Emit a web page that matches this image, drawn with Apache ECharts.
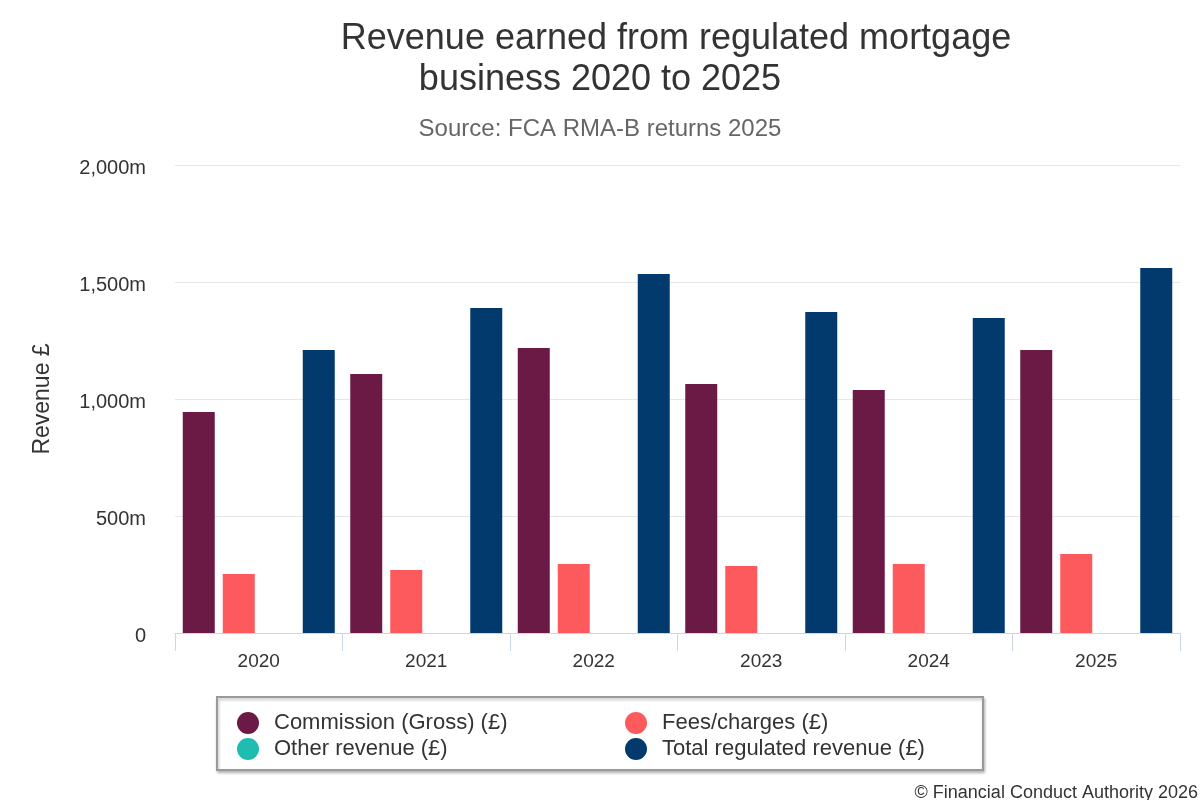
<!DOCTYPE html>
<html>
<head>
<meta charset="utf-8">
<script src="https://cdn.jsdelivr.net/npm/echarts@6/dist/echarts.min.js"></script>
<style>
  html, body { margin: 0; padding: 0; background: #fff; }
  #chart { width: 1200px; height: 800px; }
</style>
</head>
<body>
<div id="chart"></div>
<script>
// data (values in £m)
var years = ['2020', '2021', '2022', '2023', '2024', '2025'];
var commission = [944, 1107, 1218, 1064, 1038, 1209];
var fees = [252, 269, 295, 286, 295, 338];
var otherRevenue = [0, 0, 0, 0, 0, 0];
var totalRevenue = [1209, 1389, 1534, 1372, 1346, 1560];
var yTicks = [0, 500, 1000, 1500, 2000];

var font = 'Liberation Sans, Arial, sans-serif';

function barSeries(name, data, color) {
  return {
    name: name,
    type: 'bar',
    data: data,
    barWidth: 32,
    barGap: '25%',
    itemStyle: { color: color },
    emphasis: { disabled: true }
  };
}

var chartDom = document.getElementById('chart');
var myChart = echarts.init(chartDom);

var option = {
  animation: false,
  textStyle: { fontFamily: font },
  title: [
    {
      text: 'Revenue earned from regulated mortgage',
      left: 671, top: 16, textAlign: 'center',
      textStyle: { fontSize: 36, fontWeight: 'normal', color: '#333333', fontFamily: font }
    },
    {
      text: 'business 2020 to 2025',
      left: 595, top: 57, textAlign: 'center',
      textStyle: { fontSize: 36, fontWeight: 'normal', color: '#333333', fontFamily: font }
    },
    {
      text: 'Source: FCA RMA-B returns 2025',
      left: 595, top: 112, textAlign: 'center',
      textStyle: { fontSize: 24, fontWeight: 'normal', color: '#666666', fontFamily: font }
    }
  ],
  legend: [
    {
      data: ['Commission (Gross) (£)', 'Other revenue (£)'],
      orient: 'vertical',
      left: 237, top: 712, padding: 0,
      icon: 'circle', itemWidth: 22, itemHeight: 22, itemGap: 4,
      selectedMode: false,
      textStyle: { fontSize: 22, color: '#333333', fontFamily: font, padding: [0, 0, 0, 10] }
    },
    {
      data: ['Fees/charges (£)', 'Total regulated revenue (£)'],
      orient: 'vertical',
      left: 625, top: 712, padding: 0,
      icon: 'circle', itemWidth: 22, itemHeight: 22, itemGap: 4,
      selectedMode: false,
      textStyle: { fontSize: 22, color: '#333333', fontFamily: font, padding: [0, 0, 0, 10] }
    }
  ],
  grid: { left: 175, right: 20, top: 165, bottom: 167 },
  xAxis: {
    type: 'category',
    data: years,
    axisLine: { lineStyle: { color: '#ccd6eb', width: 1 } },
    axisTick: { show: true, length: 18, lineStyle: { color: '#ccd6eb' } },
    axisLabel: { fontSize: 19, color: '#333333', margin: 19 }
  },
  yAxis: {
    type: 'value',
    min: yTicks[0],
    max: yTicks[yTicks.length - 1],
    interval: 500,
    name: 'Revenue £',
    nameLocation: 'middle',
    nameRotate: 90,
    nameGap: 121,
    nameTextStyle: { fontSize: 23, color: '#333333' },
    axisLine: { show: false },
    axisTick: { show: false },
    splitLine: { lineStyle: { color: '#e6e6e6' } },
    axisLabel: {
      margin: 29,
      formatter: function (v) {
        return '{t|' + (v === 0 ? '0' : v.toLocaleString('en-GB') + 'm') + '}';
      },
      rich: {
        t: { fontSize: 20, color: '#333333', fontFamily: font, padding: [6, 0, 0, 0] }
      }
    }
  },
  series: [
    barSeries('Commission (Gross) (£)', commission, '#6b1a45'),
    barSeries('Fees/charges (£)', fees, '#fd5a5e'),
    barSeries('Other revenue (£)', otherRevenue, '#1fbcb0'),
    barSeries('Total regulated revenue (£)', totalRevenue, '#023a6e')
  ],
  graphic: [
    {
      type: 'rect',
      z: -1,
      shape: { x: 217, y: 697, width: 766, height: 73 },
      style: {
        fill: '#ffffff', stroke: '#999999', lineWidth: 2,
        shadowColor: 'rgba(0,0,0,0.25)', shadowBlur: 3, shadowOffsetX: 1, shadowOffsetY: 2
      }
    },
    {
      type: 'text',
      right: 2, top: 784,
      style: { text: '© Financial Conduct Authority 2026', fontSize: 18, fill: '#333333', fontFamily: font }
    }
  ]
};

option && myChart.setOption(option);
</script>
</body>
</html>
